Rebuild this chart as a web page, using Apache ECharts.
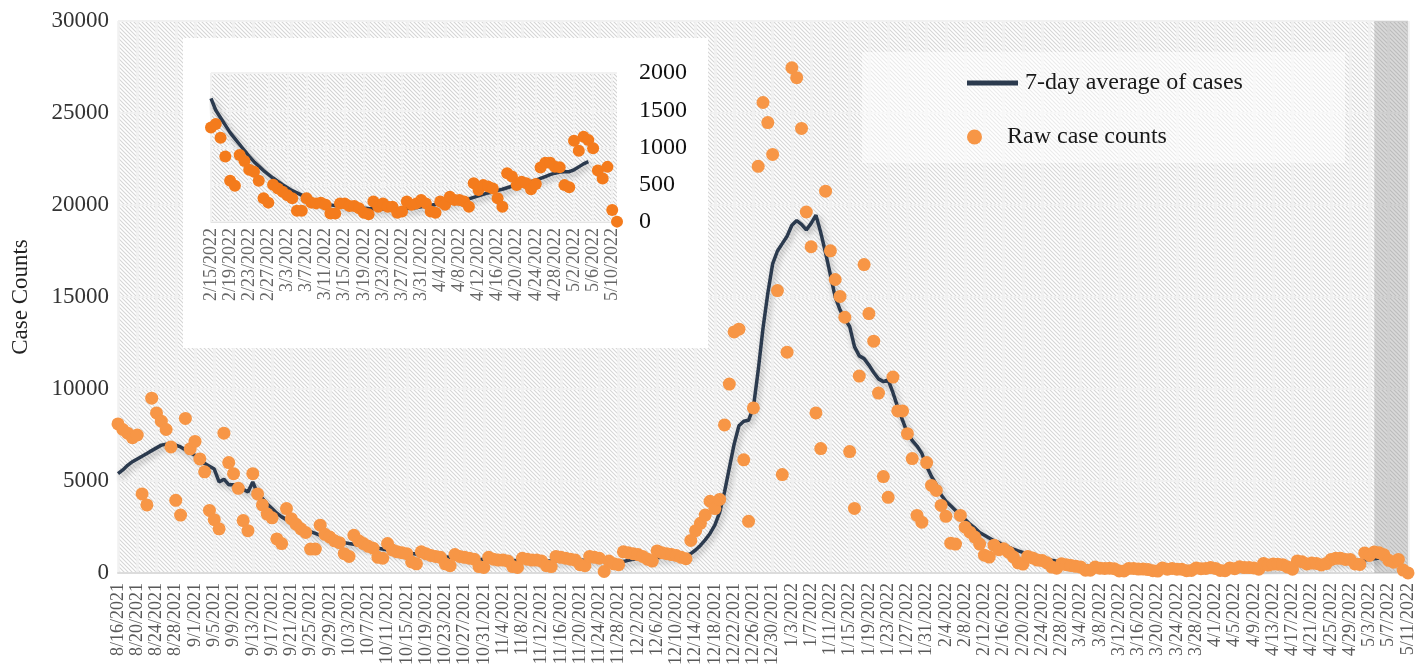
<!DOCTYPE html>
<html>
<head>
<meta charset="utf-8">
<script src="https://cdn.jsdelivr.net/npm/echarts@6/dist/echarts.min.js"></script>
<style>
  html, body { margin: 0; padding: 0; background: #fff; }
  #chart { width: 1417px; height: 668px; }
</style>
</head>
<body>
<div id="chart"></div>
<script>
// daily categories 8/16/2021 .. 5/11/2022
const startDay = [2021, 7, 16]
const dayCount = 269
const insetStart = 183 // 2/15/2022
const shadeFrom = '5/4/2022'
const shadeTo = '5/11/2022'

// raw daily case counts
const rawCases = [
  8100, 7800, 7600, 7350, 7500, 4300, 3700, 9500, 8700, 8250,
  7800, 6850, 3950, 3150, 8400, 6750, 7150, 6200, 5500, 3400,
  2900, 2400, 7600, 6000, 5400, 4600, 2850, 2300, 5400, 4300,
  3700, 3200, 3000, 1850, 1600, 3500, 2950, 2650, 2400, 2200,
  1300, 1300, 2600, 2100,
  1950, 1750, 1650, 1050, 900, 2050, 1750, 1600, 1450, 1350,
  850, 800, 1600, 1250, 1150, 1100, 1050, 600, 500, 1150,
  1050, 950, 900, 850, 500, 400, 1000, 900, 850, 800,
  750, 350, 300, 850, 750, 700, 700, 650, 350, 300,
  800, 750, 700, 700, 650, 400, 350, 900, 850, 800,
  750, 700, 450, 400, 900, 850, 800, 80, 650, 500,
  450, 1150, 1100, 1050, 1000, 900, 750, 650, 1200, 1100,
  1050, 1000, 950, 850,
  775, 1770, 2300, 2700, 3150, 3900, 3500, 4000, 8050, 10270,
  13100, 13250, 6150, 2810, 8970, 22100, 25570, 24480, 22750, 15350,
  5350, 12000, 27460, 26920, 24160, 19620, 17730, 8700, 6760, 20750,
  17510, 15950, 15030, 13900, 6600, 3510, 10700, 16760, 14100, 12600,
  9780, 5240, 4110, 10650, 8810, 8810, 7570, 6220, 3130, 2760,
  6000, 4760, 4490, 3670, 3080, 1620, 1570, 3130, 2490, 2220,
  1950, 1570, 970, 865, 1510,
  1270, 1315, 1130, 880, 555, 485, 900, 820, 700, 675,
  555, 320, 260, 500, 450, 405, 360, 320, 150, 150,
  320, 260, 250, 260, 230, 115, 115, 250, 250, 215,
  215, 185, 125, 105, 275, 205, 250, 205, 205, 125,
  140, 275, 230, 250, 295, 250, 140, 125, 275, 230,
  340, 295, 295, 275, 205, 520, 430, 495, 475, 450,
  320, 205, 655, 610, 495, 540, 520, 440, 510, 730,
  795, 795, 740, 735, 495, 465, 1090, 955, 1145, 1100,
  990, 690, 585, 740, 160, 5
]

// 7-day average, ends on 5/5/2022
const avgCases = [
  5400, 5600, 5850, 6050, 6200, 6350, 6500, 6650, 6800, 6950,
  7000, 7000, 6950, 6850, 6700, 6550, 6400, 6150, 5950, 5800,
  5650, 4950, 5100, 4800, 4800, 4700, 4550, 4400, 4950, 4300,
  4050, 3750, 3500, 3250, 3050, 2900, 2750, 2600, 2500, 2350,
  2250, 2150, 2050, 1950,
  1850, 1780, 1700, 1650, 1600, 1560, 1520, 1480, 1430, 1380,
  1340, 1300, 1250, 1200, 1160, 1120, 1090, 1060, 1030, 1000,
  970, 940, 910, 890, 870, 850, 830, 810, 800, 780,
  770, 750, 740, 730, 720, 710, 700, 690, 680, 670,
  660, 660, 650, 650, 650, 650, 650, 660, 660, 670,
  680, 680, 690, 690, 700, 700, 690, 620, 610, 600,
  600, 620, 690, 750, 780, 800, 820, 830, 840, 850,
  860, 880, 900, 920, 950,
  1050, 1250, 1500, 1800, 2150, 2600, 3300, 4400, 5700, 7000,
  8000, 8250, 8300, 9000, 11000, 13300, 15200, 16800, 17500, 17900,
  18300, 18900, 19150, 18950, 18650, 19000, 19450, 18500, 17400, 16200,
  15000, 14300, 13800, 13400, 12300, 11800, 11650, 11300, 10900, 10550,
  10400, 10500, 9800, 9000, 8300, 7600, 7200, 6900, 6500, 5800,
  5250, 4800, 4250, 3900, 3650, 3400, 3150, 2900, 2650, 2450,
  2200, 2050, 1900, 1750,
  1660, 1500, 1400, 1300, 1200, 1120, 1040, 960, 880, 810,
  750, 690, 640, 590, 545, 500, 460, 420, 390, 360,
  330, 300, 280, 260, 245, 230, 220, 215, 205, 200,
  195, 190, 185, 180, 178, 175, 174, 174, 175, 176,
  178, 180, 185, 195, 205, 215, 225, 235, 245, 255,
  265, 275, 285, 295, 310, 330, 350, 370, 390, 405,
  425, 440, 460, 480, 495, 505, 520, 540, 560, 585,
  610, 635, 655, 670, 675, 675, 700, 740, 780, 810
]

const mainTicks = [0, 30000, 5000]
const insetTicks = [0, 2000, 500]

const dates = []
for (let i = 0; i < dayCount; i++) {
  const d = new Date(startDay[0], startDay[1], startDay[2] + i)
  dates.push((d.getMonth() + 1) + '/' + d.getDate() + '/' + d.getFullYear())
}
const insetDates = dates.slice(insetStart)
const insetRaw = rawCases.slice(insetStart)
const insetAvg = avgCases.slice(insetStart)

const serif = "'Liberation Serif', 'DejaVu Serif', serif"
const lineColor = '#2b3a4e'
const plain = v => String(v) // no thousands separator

// diagonal hatch tile
const hatch = (fg, bg, step, w) => {
  const c = document.createElement('canvas')
  c.width = step; c.height = step
  const ctx = c.getContext('2d')
  ctx.fillStyle = bg
  ctx.fillRect(0, 0, step, step)
  ctx.strokeStyle = fg
  ctx.lineWidth = w
  ctx.beginPath()
  ctx.moveTo(-1, -1); ctx.lineTo(step + 1, step + 1)
  ctx.moveTo(-1, step - 1); ctx.lineTo(1, step + 1)
  ctx.moveTo(step - 1, -1); ctx.lineTo(step + 1, 1)
  ctx.stroke()
  return c
}

const lineShadow = {
  shadowColor: 'rgba(0,0,0,0.3)',
  shadowBlur: 6,
  shadowOffsetX: 2,
  shadowOffsetY: 3
}

const myChart = echarts.init(document.getElementById('chart'))
const option = {
  animation: false,
  grid: [
    { left: 118, right: 9, top: 21, bottom: 92, show: true, borderWidth: 0, z: 0,
      backgroundColor: { image: hatch('#d6d6d6', '#ffffff', 4, 1.1), repeat: 'repeat' } },
    { left: 211, right: 800, top: 73, bottom: 446, show: true, borderWidth: 0, z: 5,
      backgroundColor: { image: hatch('#d2d2d2', '#ffffff', 4, 1.1), repeat: 'repeat' } }
  ],
  graphic: [
    { type: 'rect', z: 3, silent: true, shape: { x: 862, y: 52, width: 483, height: 111 },
      style: { fill: 'rgba(255,255,255,0.5)' } },
    { type: 'rect', z: 4, silent: true, shape: { x: 183, y: 38, width: 525, height: 310 },
      style: { fill: '#ffffff' } }
  ],
  legend: [
    { data: [{ name: '7-day average of cases', icon: 'rect' }],
      left: 962, top: 66, itemWidth: 51, itemHeight: 5, itemGap: 0, z: 10,
      textStyle: { fontFamily: serif, fontSize: 24, color: '#1a1a1a', padding: [0, 0, 0, 2] } },
    { data: [{ name: 'Raw case counts', icon: 'circle' }],
      left: 962, top: 120, itemWidth: 51, itemHeight: 15, itemGap: 0, z: 10,
      textStyle: { fontFamily: serif, fontSize: 24, color: '#1a1a1a', padding: [0, 0, 0, 2] } }
  ],
  xAxis: [
    {
      type: 'category', gridIndex: 0, data: dates, boundaryGap: false, z: 0,
      axisLine: { lineStyle: { color: '#dcdcdc', width: 2 } },
      axisTick: { show: false },
      axisLabel: { interval: 3, rotate: 90, margin: 10, fontFamily: serif, fontSize: 18, color: '#595959' },
      splitLine: { show: true, interval: 3, lineStyle: { color: '#f1f1f1', width: 2.5 } }
    },
    {
      type: 'category', gridIndex: 1, data: insetDates, boundaryGap: false, z: 5,
      axisLine: { lineStyle: { color: '#e4e4e4', width: 1 } },
      axisTick: { show: false },
      axisLabel: { interval: 3, rotate: 90, margin: 6, fontFamily: serif, fontSize: 18, color: '#666666' },
      splitLine: { show: true, interval: 3, lineStyle: { color: '#f2f2f2', width: 2 } }
    }
  ],
  yAxis: [
    {
      type: 'value', gridIndex: 0, min: mainTicks[0], max: mainTicks[1], interval: mainTicks[2], z: 0,
      name: 'Case Counts', nameLocation: 'middle', nameGap: 86,
      nameTextStyle: { fontFamily: serif, fontSize: 23, color: '#222' },
      axisLine: { show: false }, axisTick: { show: false },
      axisLabel: { margin: 9, fontFamily: serif, fontSize: 23, color: '#333', formatter: plain },
      splitLine: { show: true, lineStyle: { color: '#f1f1f1', width: 2 } }
    },
    {
      type: 'value', gridIndex: 1, position: 'right', min: insetTicks[0], max: insetTicks[1], interval: insetTicks[2], z: 5,
      axisLine: { show: false }, axisTick: { show: false },
      axisLabel: { margin: 22, fontFamily: serif, fontSize: 24, color: '#111', formatter: plain },
      splitLine: { show: true, lineStyle: { color: '#f2f2f2', width: 2 } }
    }
  ],
  series: [
    {
      name: '7-day average of cases', type: 'line', xAxisIndex: 0, yAxisIndex: 0, z: 1,
      data: avgCases, showSymbol: false, symbol: 'none', silent: true,
      itemStyle: { color: lineColor },
      lineStyle: Object.assign({ color: lineColor, width: 3.5 }, lineShadow)
    },
    {
      name: 'Raw case counts', type: 'scatter', xAxisIndex: 0, yAxisIndex: 0, z: 2,
      data: rawCases, symbolSize: 13, silent: true,
      itemStyle: { color: '#f79646', opacity: 1 }
    },
    {
      name: 'shadeMain', type: 'line', xAxisIndex: 0, yAxisIndex: 0, z: 3, data: [], silent: true,
      markArea: { silent: true, itemStyle: { color: 'rgba(130,130,130,0.3)' },
        data: [[{ xAxis: shadeFrom }, { xAxis: shadeTo }]] }
    },
    {
      name: '7-day average of cases', type: 'line', xAxisIndex: 1, yAxisIndex: 1, z: 6,
      data: insetAvg, showSymbol: false, symbol: 'none', silent: true,
      itemStyle: { color: lineColor },
      lineStyle: Object.assign({ color: lineColor, width: 3.5 }, lineShadow)
    },
    {
      name: 'Raw case counts', type: 'scatter', xAxisIndex: 1, yAxisIndex: 1, z: 7,
      data: insetRaw, symbolSize: 12, silent: true,
      itemStyle: { color: '#f47b1c', opacity: 1 }
    },
    {
      name: 'shadeInset', type: 'line', xAxisIndex: 1, yAxisIndex: 1, z: 8, data: [], silent: true,
      markArea: { silent: true, itemStyle: { color: 'rgba(150,150,150,0.35)' },
        data: [[{ xAxis: shadeFrom }, { xAxis: shadeTo }]] }
    }
  ]
}
myChart.setOption(option)
window.addEventListener('resize', () => myChart.resize())
</script>
</body>
</html>
